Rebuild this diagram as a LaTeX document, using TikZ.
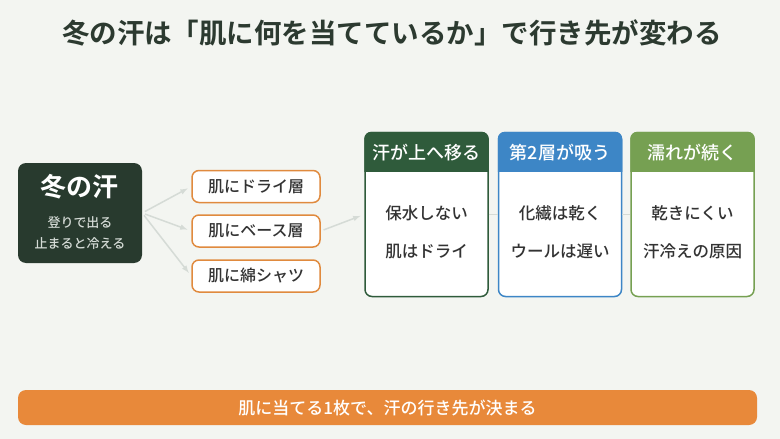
\documentclass[tikz,border=0pt]{standalone}
\usepackage{fontspec}
\setmainfont{Noto Sans CJK JP}[UprightFont={* Medium},BoldFont={* Bold}]
\usetikzlibrary{arrows.meta}

\definecolor{hinter}{HTML}{F3F5F1}
\definecolor{tinte}{HTML}{2C3A30}
\definecolor{dunkel}{HTML}{283A2E}
\definecolor{orange}{HTML}{E08A3E}
\definecolor{balken}{HTML}{E8893A}
\definecolor{gruenA}{HTML}{2F5B3B}
\definecolor{blau}{HTML}{3D86C6}
\definecolor{gruenB}{HTML}{76A052}
\definecolor{pfeilgrau}{HTML}{D5DBD6}
\definecolor{schrift}{HTML}{333333}

\tikzset{
	feld/.style={draw=orange,fill=white,line width=1.5pt,rounded corners=7pt,
		minimum width=128pt,minimum height=32pt,text=schrift,
		font=\fontsize{16}{18}\selectfont},
	karte/.style={fill=white,line width=1.5pt,rounded corners=7pt,
		minimum width=123pt,minimum height=164pt},
	kopf/.style={text=white,font=\fontsize{18}{20}\selectfont},
	zeile/.style={text=schrift,font=\fontsize{16.5}{19}\selectfont},
	pfeil/.style={draw=pfeilgrau,line width=1.5pt,->,shorten <=3pt,shorten >=4pt},
}

% name, x, colour, header, line 1, line 2
\def\karte#1#2#3#4#5#6{
	\node[karte,draw=#3] (#1) at (#2,214.5) {};
	\fill[#3] ([yshift=-40pt]#1.north west) {[rounded corners=7pt] -- (#1.north west) -- (#1.north east)} -- ([yshift=-40pt]#1.north east) -- cycle;
	\node[kopf] (#1k) at ([yshift=-21pt]#1.north) {#4};
	\node[zeile] (#1a) at ([yshift=-81pt]#1.north) {#5};
	\node[zeile] (#1b) at ([yshift=-120pt]#1.north) {#6};
}

\begin{document}
\begin{tikzpicture}[x=1pt,y=-1pt,>=latex]
\fill[hinter] (0,0) rectangle (780,439);
\useasboundingbox (0,0) rectangle (780,439);

\node[text=tinte,font=\bfseries\fontsize{27.5}{30}\selectfont] (titel) at (392,33) {冬の汗は「肌に何を当てているか」で行き先が変わる};

% links
\node[fill=dunkel,rounded corners=8pt,minimum width=124pt,minimum height=100pt] (haupt) at (80,213) {};
\node[text=white,font=\bfseries\fontsize{26}{28}\selectfont] (hauptname) at (80,187) {冬の汗};
\node[text=pfeilgrau,align=center,font=\fontsize{13}{21}\selectfont] (hauptsub) at (80,233) {登りで出る\\止まると冷える};

\node[feld] (o1) at (256,186.5) {肌にドライ層};
\node[feld] (o2) at (256,231) {肌にベース層};
\node[feld] (o3) at (256,276) {肌に綿シャツ};

% Karten
\karte{k1}{426.5}{gruenA}{汗が上へ移る}{保水しない}{肌はドライ}
\karte{k2}{560}{blau}{第2層が吸う}{化繊は乾く}{ウールは遅い}
\karte{k3}{692.5}{gruenB}{濡れが続く}{乾きにくい}{汗冷えの原因}

\foreach \o in {o1,o2,o3}{
	\draw[pfeil] (haupt.east) -- (\o.west);
}
\draw[pfeil] (o2.east) -- (k1.west);
\draw[draw=pfeilgrau,line width=1.2pt] (k1.east) -- (k2.west);
\draw[draw=pfeilgrau,line width=1.2pt] (k2.east) -- (k3.west);

\node[fill=balken,rounded corners=8pt,minimum width=739pt,minimum height=35pt,
	text=white,font=\fontsize{17}{19}\selectfont] (fazit) at (387.5,407.5) {肌に当てる1枚で、汗の行き先が決まる};
\end{tikzpicture}
\end{document}
